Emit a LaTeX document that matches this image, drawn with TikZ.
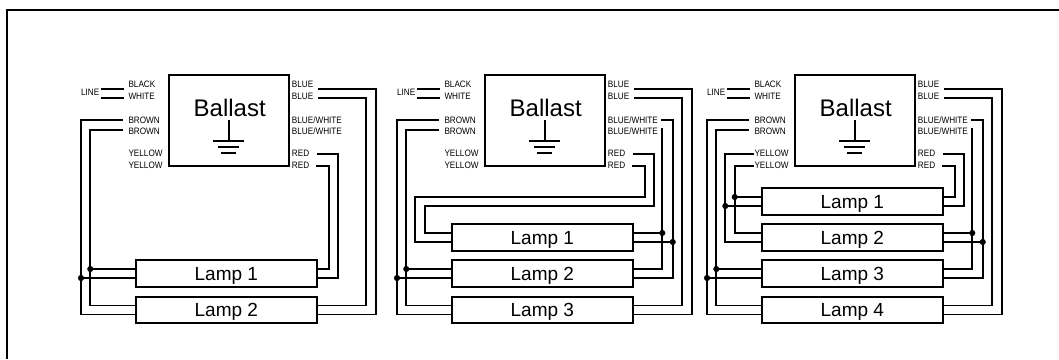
\documentclass[tikz,border=0pt]{standalone}
\usepackage{fontspec}
\setmainfont{Liberation Sans}
\newfontfamily\labelfont[FakeStretch=0.88]{Liberation Sans}
\tikzset{
  wire/.style={line width=1.7pt},
  ballastbox/.style={draw,line width=1.7pt,anchor=north west,minimum width=120.3pt,minimum height=90.4pt,inner sep=0pt,outer sep=0pt},
  lampbox/.style={draw,line width=1.7pt,minimum width=181.3pt,minimum height=26.5pt,inner sep=0pt,outer sep=0pt,text height=13.6pt,text depth=0pt,font=\fontsize{19}{19}\selectfont},
  colorlabel/.style={anchor=west,inner sep=0pt,font=\labelfont\fontsize{9.3}{9.3}\selectfont},
}
% lamp with its four terminals: name, centre y, text
\newcommand{\addlamp}[3]{
  \node[lampbox] (#1) at (226.35,#2) {#3};
  \coordinate (#1wu) at ([yshift=4.5pt]#1.west);
  \coordinate (#1wd) at ([yshift=-4.5pt]#1.west);
  \coordinate (#1eu) at ([yshift=4.5pt]#1.east);
  \coordinate (#1ed) at ([yshift=-4.5pt]#1.east);
}
\begin{document}
\begin{tikzpicture}[x=1pt,y=-1pt]
\useasboundingbox (0,0) rectangle (1059,359);
\coordinate (framebl) at (7,359);
\coordinate (frametl) at (7,10);
\coordinate (frametr) at (1059,10);
\draw[line width=2pt] (framebl) -- (frametl) -- (frametr);

\foreach \dx/\p/\m/\n in {0/a/1/2,316/b/2/3,626/c/3/4} {
\begin{scope}[shift={(\dx,0)}]
  \node[ballastbox] (\p ballast) at (169,75.3) {};
  \node[inner sep=0pt,font=\fontsize{24}{24}\selectfont] (\p name) at (229.7,107.5) {Ballast};

  % ground
  \coordinate (\p gnd) at (228.7,120);
  \coordinate (\p gndb) at (228.7,140.7);
  \draw[wire] (\p gnd) -- (\p gndb);
  \draw[wire] (213.3,140.7) -- (243.7,140.7);
  \draw[wire] (218,147) -- (238.5,147);
  \draw[wire] (220.5,153) -- (235.5,153);

  \node[colorlabel] (\p black) at (128.3,84.3) {BLACK};
  \node[colorlabel] (\p white) at (128.3,96.3) {WHITE};
  \node[colorlabel] (\p browna) at (128.3,120) {BROWN};
  \node[colorlabel] (\p brownb) at (128.3,131) {BROWN};
  \node[colorlabel] (\p yellowa) at (128.3,153.7) {YELLOW};
  \node[colorlabel] (\p yellowb) at (128.3,165.5) {YELLOW};
  \node[colorlabel] (\p bluea) at (291.7,84.3) {BLUE};
  \node[colorlabel] (\p blueb) at (291.7,96.3) {BLUE};
  \node[colorlabel] (\p bwa) at (291.7,120) {BLUE/WHITE};
  \node[colorlabel] (\p bwb) at (291.7,131) {BLUE/WHITE};
  \node[colorlabel] (\p reda) at (291.7,153.7) {RED};
  \node[colorlabel] (\p redb) at (291.7,165.5) {RED};
  \node[colorlabel,anchor=east] (\p line) at (99.5,92.5) {LINE};

  \coordinate (\p linea) at (101,89);
  \coordinate (\p lineb) at (101,98);
  \coordinate (\p blacke) at (124,89);
  \coordinate (\p whitee) at (124,98);
  \draw[wire] (\p linea) -- (\p blacke);
  \draw[wire] (\p lineb) -- (\p whitee);

  \addlamp{\p\m}{273.5}{Lamp \m}
  \addlamp{\p\n}{310}{Lamp \n}

  % brown to the lowest lamp
  \coordinate (\p browne) at (122.7,120.3);
  \coordinate (\p brownf) at (122.7,130);
  \draw[wire] (\p browne) -| (81,314.5) -- (\p\n wd);
  \draw[wire] (\p brownf) -| (90.3,305.5) -- (\p\n wu);

  % blue to the lowest lamp
  \coordinate (\p bluee) at (318,89);
  \coordinate (\p bluef) at (318,98);
  \draw[wire] (\p bluee) -| (375.7,314.5) -- (\p\n ed);
  \draw[wire] (\p bluef) -| (366,305.5) -- (\p\n eu);

  % parallel on the next lamp
  \coordinate (\p dota) at (90.3,269);
  \coordinate (\p dotb) at (81,278);
  \draw[wire] (\p\m wu) -- (\p dota);
  \draw[wire] (\p\m wd) -- (\p dotb);
  \filldraw[black] (\p dota) circle (2.8pt);
  \filldraw[black] (\p dotb) circle (2.8pt);

  \coordinate (\p rede) at (316.7,153.7);
  \coordinate (\p redf) at (316,165.7);
\end{scope}
}

% first ballast, red straight to lamp 1
\begin{scope}
  \draw[wire] (arede) -| (338,278) -- (a1ed);
  \draw[wire] (aredf) -| (329.3,269) -- (a1eu);
\end{scope}

% blue/white, second and third ballast
\foreach \dx/\p/\m in {316/b/2,626/c/3} {
\begin{scope}[shift={(\dx,0)}]
  \coordinate (\p bwe) at (345,120.3);
  \coordinate (\p bwf) at (346.3,128.3);
  \draw[wire] (\p bwe) -| (356.7,278) -- (\p\m ed);
  \draw[wire] (\p bwf) |- (\p\m eu);
\end{scope}
}

% second ballast
\begin{scope}[shift={(316,0)}]
  \addlamp{b1}{237.5}{Lamp 1}
  \draw[wire] (brede) -| (338,206) -- (109,206) -- (109,233) -- (b1wu);
  \draw[wire] (bredf) -| (329.3,197.3) -- (99.3,197.3) -- (99.3,242) -- (b1wd);
  \coordinate (bdotc) at (346.3,233);
  \coordinate (bdotd) at (356.7,242);
  \draw[wire] (b1eu) -- (bdotc);
  \draw[wire] (b1ed) -- (bdotd);
  \filldraw[black] (bdotc) circle (2.8pt);
  \filldraw[black] (bdotd) circle (2.8pt);
\end{scope}

% third ballast
\begin{scope}[shift={(626,0)}]
  \addlamp{c1}{201.5}{Lamp 1}
  \addlamp{c2}{237.5}{Lamp 2}
  \draw[wire] (crede) -| (338,206) -- (c1ed);
  \draw[wire] (credf) -| (329.3,197) -- (c1eu);
  \coordinate (cyele) at (128,153.7);
  \coordinate (cyelf) at (128,165.7);
  \draw[wire] (cyele) -| (99.3,242) -- (c2wd);
  \draw[wire] (cyelf) -| (108.7,233) -- (c2wu);
  \coordinate (cdote) at (108.7,197);
  \coordinate (cdotf) at (99.3,206);
  \draw[wire] (c1wu) -- (cdote);
  \draw[wire] (c1wd) -- (cdotf);
  \filldraw[black] (cdote) circle (2.8pt);
  \filldraw[black] (cdotf) circle (2.8pt);
  \coordinate (cdotc) at (346.3,233);
  \coordinate (cdotd) at (356.7,242);
  \draw[wire] (c2eu) -- (cdotc);
  \draw[wire] (c2ed) -- (cdotd);
  \filldraw[black] (cdotc) circle (2.8pt);
  \filldraw[black] (cdotd) circle (2.8pt);
\end{scope}
\end{tikzpicture}
\end{document}
